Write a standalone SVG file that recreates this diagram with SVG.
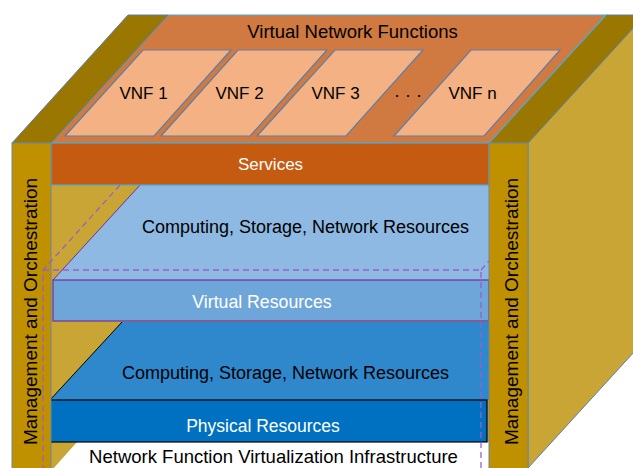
<svg xmlns="http://www.w3.org/2000/svg" width="633" height="468" viewBox="0 0 633 468">
<style>
text{font-family:"Liberation Sans",Arial,sans-serif;text-anchor:middle}
.blk{fill:#000}
.wht{fill:#fff}
.pillarTop{fill:#997700;stroke:#5B80A8;stroke-width:1}
.pillar{fill:#BF9000;stroke:#6F86A0;stroke-width:1}
.side{fill:#C9A535;stroke:#5B80A8;stroke-width:1}
.vnf{fill:#F4B183;stroke:#5B7FA8;stroke-width:1.2}
.dash{fill:none;stroke:#9A5FCC;stroke-width:1.3;stroke-dasharray:6 4}
.mo{font-size:19px}
</style>
<rect width="633" height="468" fill="#fff"/>
<g id="right-face">
<polygon class="side" points="528,143 645,15 645,340 528,468"/>
</g>
<g id="right-pillar-top">
<polygon class="pillarTop" points="606,15 645,15 528,143 489,143"/>
</g>
<g id="vnf-layer">
<polygon points="168,15 606,15 489,143 51,143" fill="#D07A41" stroke="#4BAAD8" stroke-width="1.2"/>
<text x="352.5" y="38" font-size="18.5" class="blk">Virtual Network Functions</text>
</g>
<g id="vnf1">
<polygon class="vnf" points="143,50 231,50 154,136 65,136"/>
<text x="143.5" y="99" font-size="17" class="blk">VNF 1</text>
</g>
<g id="vnf2">
<polygon class="vnf" points="238,50 327,50 250,136 161,136"/>
<text x="239.5" y="99" font-size="17" class="blk">VNF 2</text>
</g>
<g id="vnf3">
<polygon class="vnf" points="335,50 423,50 346,136 257,136"/>
<text x="335.5" y="99" font-size="17" class="blk">VNF 3</text>
</g>
<g id="dots">
<text x="408" y="101" font-size="18" class="blk">· · ·</text>
</g>
<g id="vnfn">
<polygon class="vnf" points="471,50 560,50 484,136 394,136"/>
<text x="472.5" y="99" font-size="17" class="blk">VNF n</text>
</g>
<g id="left-pillar-top">
<polygon class="pillarTop" points="128,15 168,15 51,143 12,143"/>
</g>
<g id="inner-left-face">
<rect x="51" y="143" width="438" height="327" fill="#C9A535"/>
<polygon points="77,442 489,442 489,470 52,470" fill="#fff"/>
</g>
<g id="virtual-resources">
<polygon points="140,185 489,185 489,280 53,280" fill="#8DB9E2"/>
<line x1="140" y1="185" x2="53" y2="280" stroke="#7030A0" stroke-width="1"/>
<text x="305.5" y="233" font-size="18" class="blk">Computing, Storage, Network Resources</text>
<rect x="53" y="280" width="436" height="41" fill="#6FA6D9" stroke="#7030A0" stroke-width="1.2"/>
<text x="262" y="308" font-size="17.7" class="wht">Virtual Resources</text>
</g>
<g id="physical-resources">
<polygon points="122,322 489,322 489,400 50,400" fill="#2E88CB"/>
<line x1="122" y1="322" x2="50" y2="400" stroke="#000" stroke-width="1"/>
<text x="285.5" y="379" font-size="18" class="blk">Computing, Storage, Network Resources</text>
<rect x="50" y="400" width="437" height="42" fill="#0070C0" stroke="#000" stroke-width="1.2"/>
<text x="263" y="432" font-size="17.5" class="wht">Physical Resources</text>
</g>
<g id="services">
<rect x="51" y="143" width="438" height="42" fill="#C55A11" stroke="#4BAAD8" stroke-width="1.2"/>
<text x="270.5" y="170" font-size="17" class="wht">Services</text>
</g>
<g id="mano-left">
<rect class="pillar" x="12" y="143" width="39" height="330"/>
<text class="mo blk" transform="translate(37,311.5) rotate(-90)">Management and Orchestration</text>
</g>
<g id="mano-right">
<rect class="pillar" x="489" y="143" width="39" height="330"/>
<text class="mo blk" transform="translate(518,311.5) rotate(-90)">Management and Orchestration</text>
</g>
<g id="nfvi">
<path class="dash" d="M120,185 L43,270 L43,470 M43,270 L481,270 L481,470 M481,270 L489,261"/>
<text x="273.5" y="463" font-size="18.5" class="blk">Network Function Virtualization Infrastructure</text>
</g>
<g id="connectors"></g>
</svg>
